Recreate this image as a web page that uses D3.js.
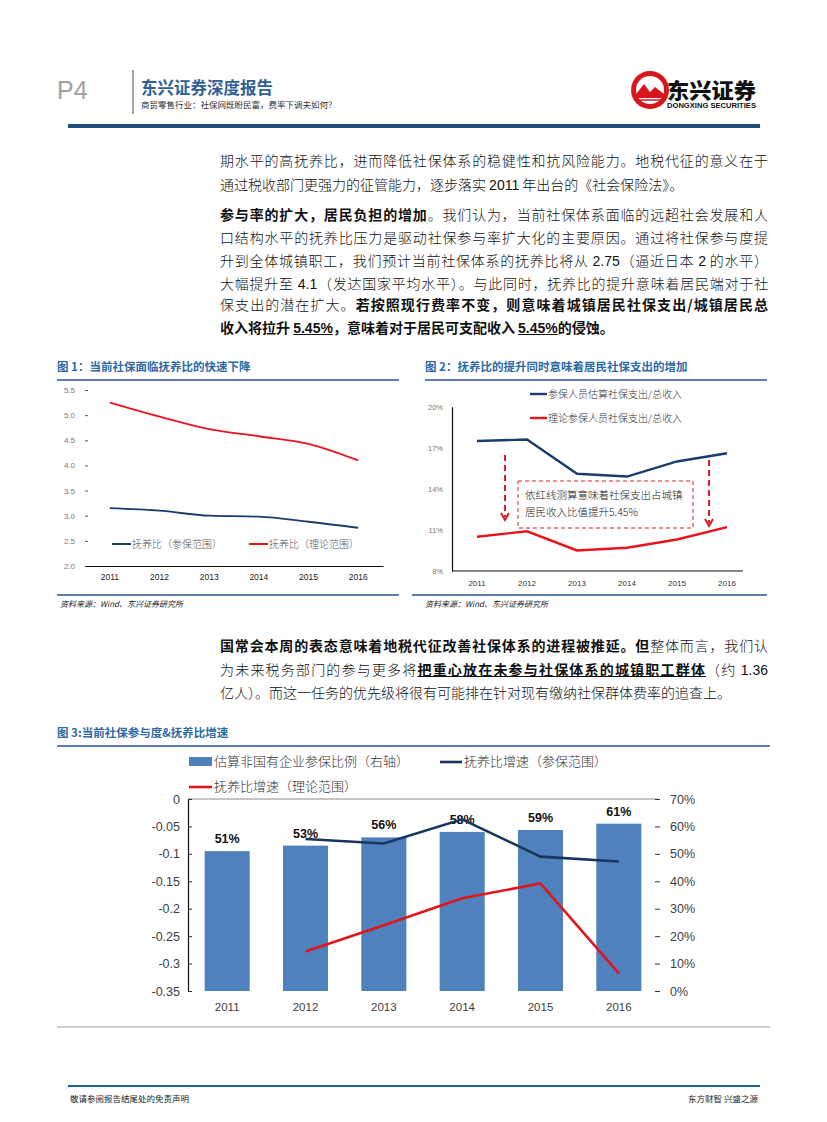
<!DOCTYPE html>
<html><head><meta charset="utf-8">
<script src="https://cdn.jsdelivr.net/npm/d3@7"></script>
<style>
html,body{margin:0;padding:0;background:#fff;}
#page{position:relative;width:827px;height:1122px;overflow:hidden;background:#fff;}
svg{position:absolute;left:0;top:0;}
.ln{position:absolute;left:220px;width:548px;font-family:"Noto Sans CJK SC","Noto Sans",sans-serif;font-size:14px;font-weight:300;color:#111;white-space:nowrap;line-height:18px;}
.j{text-align:justify;text-align-last:justify;white-space:normal;}
.b{font-weight:700;}
.u{text-decoration:underline;}
.num{font-family:"Liberation Sans",Arial,sans-serif;font-weight:400;}
.bnum{font-family:"Liberation Sans",Arial,sans-serif;font-weight:700;}
</style></head>
<body><div id="page"></div>
<script>
// ---------------- DATA ----------------
const years = ["2011","2012","2013","2014","2015","2016"];
// Chart 1: 抚养比
const c1Insured = [3.15, 3.10, 3.00, 2.98, 2.88, 2.76];   // 抚养比（参保范围）
const c1Theory  = [5.25, 4.97, 4.72, 4.58, 4.43, 4.10];   // 抚养比（理论范围）
const c1Ticks   = [2.0, 2.5, 3.0, 3.5, 4.0, 4.5, 5.0, 5.5];
// Chart 2: 社保支出/总收入 (%)
const c2Insured = [17.5, 17.6, 15.1, 14.9, 16.0, 16.6];   // 参保人员估算社保支出/总收入
const c2Theory  = [10.5, 10.9, 9.5, 9.7, 10.3, 11.2];     // 理论参保人员社保支出/总收入
const c2Ticks   = [8, 11, 14, 17, 20];
// Chart 3
const c3Coverage      = [0.51, 0.53, 0.56, 0.58, 0.587, 0.61];          // 估算非国有企业参保比例（右轴）
const c3GrowthInsured = [null, -0.073, -0.081, -0.037, -0.105, -0.114]; // 抚养比增速（参保范围）
const c3GrowthTheory  = [null, -0.278, -0.230, -0.181, -0.154, -0.318]; // 抚养比增速（理论范围）
const c3LeftTicks  = [0, -0.05, -0.1, -0.15, -0.2, -0.25, -0.3, -0.35];
const c3RightTicks = [0, 0.1, 0.2, 0.3, 0.4, 0.5, 0.6, 0.7];

const page = d3.select("#page");
const svg = page.append("svg").attr("width", 827).attr("height", 1122);
const CJK = '"Noto Sans CJK SC","Noto Sans",sans-serif';
const LAT = '"Liberation Sans",Arial,sans-serif';
const NAR = '"Liberation Sans Narrow","Liberation Sans",Arial,sans-serif';
const RED = "#E8141B", NAVY = "#1A3D6D", BAR = "#4F81BD", TITLE = "#2E6AA3";

// ---------------- HEADER ----------------
svg.append("text").attr("x", 57).attr("y", 99).text("P4")
  .attr("font-family", LAT).attr("font-size", 25).attr("fill", "#a0a0a0").attr("font-weight", 300);
svg.append("line").attr("x1", 133).attr("x2", 133).attr("y1", 70).attr("y2", 114)
  .attr("stroke", "#a6a6a6").attr("stroke-width", 2);
svg.append("text").attr("x", 141).attr("y", 94).text("东兴证券深度报告")
  .attr("font-family", CJK).attr("font-size", 16.5).attr("font-weight", 700).attr("fill", "#2F5F96");
svg.append("text").attr("x", 141).attr("y", 108).text("商贸零售行业：社保网既盼民富，费率下调夫如何？")
  .attr("font-family", CJK).attr("font-size", 8.5).attr("fill", "#333");
// logo
const lg = svg.append("g").attr("transform", "translate(650,90)");
lg.append("circle").attr("r", 19).attr("fill", "#D8141C");
lg.append("circle").attr("r", 14).attr("fill", "#fff");
lg.append("path").attr("d", "M-14,4 L-6,-6 L0,2 L5,-3 L14,4 L14,8 L-14,8 Z").attr("fill", "#D8141C");
lg.append("path").attr("d", "M-12,10 L12,10").attr("stroke", "#D8141C").attr("stroke-width", 1.5);
svg.append("text").attr("x", 667).attr("y", 98).text("东兴证券")
  .attr("font-family", CJK).attr("font-size", 21).attr("font-weight", 900).attr("fill", "#111")
  .attr("textLength", 89).attr("lengthAdjust", "spacingAndGlyphs");
svg.append("text").attr("x", 667).attr("y", 108).text("DONGXING SECURITIES")
  .attr("font-family", LAT).attr("font-size", 6.5).attr("font-weight", 700).attr("fill", "#111")
  .attr("textLength", 89).attr("lengthAdjust", "spacingAndGlyphs");
svg.append("rect").attr("x", 68).attr("y", 124).attr("width", 692).attr("height", 4).attr("fill", "#1F4E79");

// ---------------- BODY TEXT ----------------
const lines = [
  {y:151, j:true, h:'期水平的高抚养比，进而降低社保体系的稳健性和抗风险能力。地税代征的意义在于'},
  {y:175, j:false, h:'通过税收部门更强力的征管能力，逐步落实 <span class="num">2011</span> 年出台的《社会保险法》。'},
  {y:205, j:true, h:'<span class="b">参与率的扩大，居民负担的增加</span>。我们认为，当前社保体系面临的远超社会发展和人'},
  {y:228, j:true, h:'口结构水平的抚养比压力是驱动社保参与率扩大化的主要原因。通过将社保参与度提'},
  {y:251, j:true, h:'升到全体城镇职工，我们预计当前社保体系的抚养比将从 <span class="num">2.75</span>（逼近日本 <span class="num">2</span> 的水平）'},
  {y:274, j:true, h:'大幅提升至 <span class="num">4.1</span>（发达国家平均水平）。与此同时，抚养比的提升意味着居民端对于社'},
  {y:295, j:true, h:'保支出的潜在扩大。<span class="b">若按照现行费率不变，则意味着城镇居民社保支出/城镇居民总</span>'},
  {y:318, j:false, h:'<span class="b">收入将拉升 <span class="bnum u">5.45%</span>，意味着对于居民可支配收入 <span class="bnum u">5.45%</span>的侵蚀。</span>'},
  {y:636, j:true, h:'<span class="b">国常会本周的表态意味着地税代征改善社保体系的进程被推延。但</span>整体而言，我们认'},
  {y:660, j:true, h:'为未来税务部门的参与更多将<span class="b u">把重心放在未参与社保体系的城镇职工群体</span>（约 <span class="num">1.36</span>'},
  {y:683, j:false, h:'亿人）。而这一任务的优先级将很有可能排在针对现有缴纳社保群体费率的追查上。'}
];
lines.forEach(l => {
  page.append("div").attr("class", "ln" + (l.j ? " j" : "")).style("top", l.y + "px").html(l.h);
});

// ---------------- helpers ----------------
function chartTitle(x, y, w, txt) {
  svg.append("text").attr("x", x).attr("y", y).text(txt)
    .attr("font-family", CJK).attr("font-size", 11.5).attr("font-weight", 700).attr("fill", TITLE);
  svg.append("rect").attr("x", x).attr("y", y + 8).attr("width", w).attr("height", 2).attr("fill", "#5B7FA6");
}
function source(x, y) {
  svg.append("text").attr("x", x).attr("y", y).text("资料来源：Wind、东兴证券研究所")
    .attr("font-family", CJK).attr("font-size", 8).attr("font-style", "italic").attr("fill", "#222");
}

// ---------------- CHART 1 ----------------
chartTitle(57, 371, 342, "图 1：当前社保面临抚养比的快速下降");
svg.append("rect").attr("x", 57).attr("y", 594).attr("width", 342).attr("height", 2).attr("fill", "#5B7FA6");
source(60, 607);
{
  const x = d3.scaleBand().domain(years).range([85, 383]);
  const y = d3.scaleLinear().domain([2, 5.5]).range([566, 390]);
  const g = svg.append("g");
  const ya = g.append("g").attr("transform", "translate(88,0)")
    .call(d3.axisLeft(y).tickValues(c1Ticks).tickFormat(d3.format(".1f")).tickSize(3).tickPadding(10));
  ya.select(".domain").remove();
  ya.selectAll("text").attr("font-family", LAT).attr("font-size", 8).attr("fill", "#777");
  ya.selectAll("line").attr("stroke", "#555");
  const xa = g.append("g").attr("transform", "translate(0,566)")
    .call(d3.axisBottom(x).tickSize(0).tickPadding(8));
  xa.select(".domain").attr("stroke", "#111").attr("stroke-width", 1.2);
  xa.selectAll("text").attr("font-family", LAT).attr("font-size", 8.5).attr("fill", "#222");
  const line = d3.line().x((d, i) => x(years[i]) + x.bandwidth() / 2).y(d => y(d)).curve(d3.curveMonotoneX);
  g.append("path").attr("d", line(c1Theory)).attr("fill", "none").attr("stroke", RED).attr("stroke-width", 1.8);
  g.append("path").attr("d", line(c1Insured)).attr("fill", "none").attr("stroke", NAVY).attr("stroke-width", 1.8);
  // legend
  const lgd = [{c: NAVY, t: "抚养比（参保范围）", x: 112}, {c: RED, t: "抚养比（理论范围）", x: 249}];
  lgd.forEach(d => {
    g.append("line").attr("x1", d.x).attr("x2", d.x + 19).attr("y1", 544).attr("y2", 544).attr("stroke", d.c).attr("stroke-width", 2);
    g.append("text").attr("x", d.x + 20).attr("y", 548).text(d.t)
      .attr("font-family", CJK).attr("font-size", 10).attr("font-weight", 300).attr("fill", "#555");
  });
}

// ---------------- CHART 2 ----------------
chartTitle(425, 371, 342, "图 2：抚养比的提升同时意味着居民社保支出的增加");
svg.append("rect").attr("x", 412).attr("y", 594).attr("width", 355).attr("height", 2).attr("fill", "#5B7FA6");
source(425, 607);
{
  const x = d3.scaleBand().domain(years).range([452, 752]);
  const y = d3.scaleLinear().domain([8, 20]).range([571, 406.7]);
  const g = svg.append("g");
  const ya = g.append("g").attr("transform", "translate(452,0)")
    .call(d3.axisLeft(y).tickValues(c2Ticks).tickFormat(d => d + "%").tickSize(0).tickPadding(9));
  ya.select(".domain").attr("stroke", "#111").attr("stroke-width", 1.2);
  ya.selectAll("text").attr("font-family", LAT).attr("font-size", 7.5).attr("fill", "#777");
  const xa = g.append("g").attr("transform", "translate(0,571)")
    .call(d3.axisBottom(x).tickSize(0).tickPadding(9));
  xa.select(".domain").attr("stroke", "#111").attr("stroke-width", 1.2).attr("d", "M452,0H743");
  xa.selectAll("text").attr("font-family", LAT).attr("font-size", 8).attr("fill", "#333");
  const line = d3.line().x((d, i) => x(years[i]) + x.bandwidth() / 2).y(d => y(d));
  g.append("path").attr("d", line(c2Insured)).attr("fill", "none").attr("stroke", NAVY).attr("stroke-width", 2.4);
  g.append("path").attr("d", line(c2Theory)).attr("fill", "none").attr("stroke", RED).attr("stroke-width", 2.4);
  // legend
  [{c: NAVY, t: "参保人员估算社保支出/总收入", y: 394}, {c: RED, t: "理论参保人员社保支出/总收入", y: 418}].forEach(d => {
    g.append("line").attr("x1", 530).attr("x2", 547).attr("y1", d.y).attr("y2", d.y).attr("stroke", d.c).attr("stroke-width", 2.4);
    g.append("text").attr("x", 548).attr("y", d.y + 4).text(d.t)
      .attr("font-family", CJK).attr("font-size", 10).attr("font-weight", 300).attr("fill", "#333");
  });
  // annotation box and arrows
  g.append("rect").attr("x", 518).attr("y", 481).attr("width", 175).attr("height", 47)
    .attr("fill", "#fff").attr("stroke", "#D62027").attr("stroke-width", 1).attr("stroke-dasharray", "4,3");
  g.append("text").attr("x", 525).attr("y", 499).text("依红线测算意味着社保支出占城镇")
    .attr("font-family", CJK).attr("font-size", 10.5).attr("font-weight", 300).attr("fill", "#222");
  g.append("text").attr("x", 525).attr("y", 516).text("居民收入比值提升5.45%")
    .attr("font-family", CJK).attr("font-size", 10.5).attr("font-weight", 300).attr("fill", "#222");
  [{x: 505, y1: 455, y2: 520}, {x: 709, y1: 460, y2: 526}].forEach(a => {
    g.append("line").attr("x1", a.x).attr("x2", a.x).attr("y1", a.y1).attr("y2", a.y2 - 3)
      .attr("stroke", "#D62027").attr("stroke-width", 2).attr("stroke-dasharray", "6,4");
    g.append("path").attr("d", `M${a.x - 4},${a.y2 - 7} L${a.x},${a.y2} L${a.x + 4},${a.y2 - 7}`)
      .attr("fill", "none").attr("stroke", "#D62027").attr("stroke-width", 2);
  });
}

// ---------------- CHART 3 ----------------
chartTitle(57, 737, 713, "图 3:当前社保参与度&抚养比增速");
svg.append("line").attr("x1", 57).attr("x2", 770).attr("y1", 1027).attr("y2", 1027).attr("stroke", "#9a9a9a").attr("stroke-width", 1);
{
  const x = d3.scaleBand().domain(years).range([188, 658]);
  const yL = d3.scaleLinear().domain([-0.35, 0]).range([991, 799]);
  const yR = d3.scaleLinear().domain([0, 0.7]).range([991, 799]);
  const g = svg.append("g");
  g.append("line").attr("x1", 188).attr("x2", 658).attr("y1", yL(0)).attr("y2", yL(0)).attr("stroke", "#8c8c8c").attr("stroke-width", 1);
  const bw = x.bandwidth() * 0.575;
  g.selectAll("rect.bar").data(c3Coverage).join("rect").attr("class", "bar")
    .attr("x", (d, i) => x(years[i]) + (x.bandwidth() - bw) / 2).attr("width", bw)
    .attr("y", d => yR(d)).attr("height", d => yR(0) - yR(d)).attr("fill", BAR);
  g.selectAll("text.vl").data(c3Coverage).join("text").attr("class", "vl")
    .attr("x", (d, i) => x(years[i]) + x.bandwidth() / 2).attr("y", d => yR(d) - 8)
    .attr("text-anchor", "middle").text(d => d3.format(".0%")(d))
    .attr("font-family", NAR).attr("font-size", 12.5).attr("font-weight", 700).attr("fill", "#111");
  const ya = g.append("g").attr("transform", "translate(188,0)")
    .call(d3.axisLeft(yL).tickValues(c3LeftTicks).tickFormat(d => d === 0 ? "0" : String(+d.toFixed(2))).tickSize(0).tickPadding(8));
  ya.select(".domain").attr("stroke", "#111").attr("stroke-width", 1.2);
  ya.selectAll("text").attr("font-family", NAR).attr("font-size", 12.5).attr("fill", "#404040");
  ya.selectAll(".tick").append("line").attr("x1", 0).attr("x2", 4).attr("stroke", "#333");
  const yr = g.append("g").attr("transform", "translate(658,0)")
    .call(d3.axisRight(yR).tickValues(c3RightTicks).tickFormat(d3.format(".0%")).tickSize(0).tickPadding(12));
  yr.select(".domain").remove();
  yr.selectAll("text").attr("font-family", NAR).attr("font-size", 12.5).attr("fill", "#404040");
  yr.selectAll(".tick").append("line").attr("x1", -3).attr("x2", 2).attr("stroke", "#333");
  const xa = g.append("g").attr("transform", "translate(0,991)")
    .call(d3.axisBottom(x).tickSize(0).tickPadding(12));
  xa.select(".domain").remove();
  xa.selectAll("text").attr("font-family", NAR).attr("font-size", 11.5).attr("fill", "#404040");
  const line = d3.line().defined(d => d !== null)
    .x((d, i) => x(years[i]) + x.bandwidth() / 2).y(d => yL(d));
  g.append("path").attr("d", line(c3GrowthInsured)).attr("fill", "none").attr("stroke", "#17375E").attr("stroke-width", 2.6);
  g.append("path").attr("d", line(c3GrowthTheory)).attr("fill", "none").attr("stroke", "#E3141B").attr("stroke-width", 2.6);
  // legend
  g.append("rect").attr("x", 189).attr("y", 757).attr("width", 23).attr("height", 9).attr("fill", BAR);
  g.append("text").attr("x", 214).attr("y", 766).text("估算非国有企业参保比例（右轴）")
    .attr("font-family", CJK).attr("font-size", 13).attr("font-weight", 300).attr("fill", "#333");
  g.append("line").attr("x1", 440).attr("x2", 462).attr("y1", 762).attr("y2", 762).attr("stroke", "#17375E").attr("stroke-width", 2.6);
  g.append("text").attr("x", 464).attr("y", 766).text("抚养比增速（参保范围）")
    .attr("font-family", CJK).attr("font-size", 13).attr("font-weight", 300).attr("fill", "#333");
  g.append("line").attr("x1", 189).attr("x2", 212).attr("y1", 787).attr("y2", 787).attr("stroke", "#E3141B").attr("stroke-width", 2.6);
  g.append("text").attr("x", 214).attr("y", 791).text("抚养比增速（理论范围）")
    .attr("font-family", CJK).attr("font-size", 13).attr("font-weight", 300).attr("fill", "#333");
}

// ---------------- FOOTER ----------------
svg.append("rect").attr("x", 68).attr("y", 1085).attr("width", 692).attr("height", 2).attr("fill", "#1F5F9A");
svg.append("text").attr("x", 70).attr("y", 1102).text("敬请参阅报告结尾处的免责声明")
  .attr("font-family", CJK).attr("font-size", 8.5).attr("fill", "#222");
svg.append("text").attr("x", 758).attr("y", 1102).attr("text-anchor", "end").text("东方财智 兴盛之源")
  .attr("font-family", CJK).attr("font-size", 8.5).attr("fill", "#222");
</script>
</body></html>
